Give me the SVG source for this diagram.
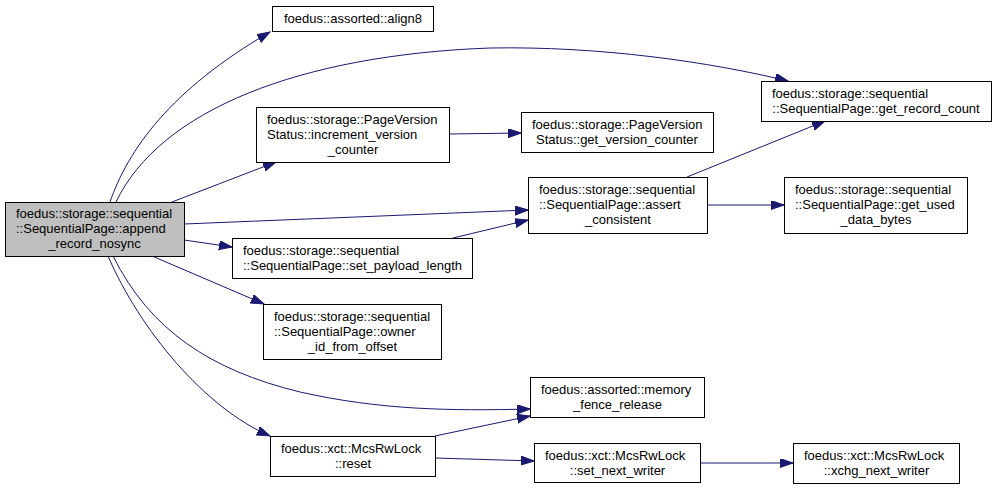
<svg xmlns="http://www.w3.org/2000/svg" width="996" height="489" viewBox="0 0 996 489">
<defs>
<marker id="arr" markerUnits="userSpaceOnUse" markerWidth="14" markerHeight="10" refX="13" refY="4.5" orient="auto">
<path d="M0,0 L13,4.5 L0,9 z" fill="#191970" stroke="#191970" stroke-width="1"/>
</marker>
<style>
.n rect{fill:#ffffff;stroke:#000000;stroke-width:1}
.n.main rect{fill:#bfbfbf}
text{font-family:"Liberation Sans",Arial,Helvetica,sans-serif;font-size:13px;fill:#000000}
.c{text-anchor:middle}
.e path{fill:none;stroke:#191970;stroke-width:1;marker-end:url(#arr)}
</style>
</defs>
<rect x="0" y="0" width="996" height="489" fill="#ffffff"/>
<g id="edges" class="e">
<path d="M110,202 C128,150 170,90 270,32"/>
<path d="M116,202 C160,110 300,55 490,48 C600,46 710,62 788,81"/>
<path d="M172,202 L276,162"/>
<path d="M184,224 L528,210"/>
<path d="M184,240 L232,247"/>
<path d="M152,256 L264,304"/>
<path d="M113,256 C150,330 210,370 300,392 C380,410 450,411 530,409"/>
<path d="M108,256 C140,330 205,408 270,436"/>
<path d="M449,134 L521,133"/>
<path d="M687,177 L825,121"/>
<path d="M707,205 L784,205"/>
<path d="M453,238 L528,220"/>
<path d="M435,436 L530,416"/>
<path d="M435,458 L534,461"/>
<path d="M700,463 L793,463"/>
</g>
<g id="n_main" class="n main">
<rect x="5.5" y="202.5" width="179" height="54"/>
<text x="16" y="218">foedus::storage::sequential</text>
<text x="16" y="233">::SequentialPage::append</text>
<text x="94.5" y="247.5" class="c">_record_nosync</text>
</g>
<g id="n_align8" class="n">
<rect x="272.5" y="6.5" width="161" height="25"/>
<text x="353" y="23" class="c">foedus::assorted::align8</text>
</g>
<g id="n_get_record_count" class="n">
<rect x="761.5" y="81.5" width="230" height="40"/>
<text x="772" y="98">foedus::storage::sequential</text>
<text x="876" y="113" class="c">::SequentialPage::get_record_count</text>
</g>
<g id="n_increment" class="n">
<rect x="256.5" y="107.5" width="193" height="55"/>
<text x="267" y="124">foedus::storage::PageVersion</text>
<text x="267" y="139">Status::increment_version</text>
<text x="353" y="153.5" class="c">_counter</text>
</g>
<g id="n_get_version_counter" class="n">
<rect x="521.5" y="112.5" width="192" height="40"/>
<text x="532" y="129">foedus::storage::PageVersion</text>
<text x="617" y="144" class="c">Status::get_version_counter</text>
</g>
<g id="n_assert" class="n">
<rect x="528.5" y="177.5" width="179" height="56"/>
<text x="539" y="194">foedus::storage::sequential</text>
<text x="539" y="209">::SequentialPage::assert</text>
<text x="618" y="223.5" class="c">_consistent</text>
</g>
<g id="n_get_used" class="n">
<rect x="784.5" y="177.5" width="183" height="56"/>
<text x="795" y="194">foedus::storage::sequential</text>
<text x="795" y="209">::SequentialPage::get_used</text>
<text x="876" y="223.5" class="c">_data_bytes</text>
</g>
<g id="n_set_payload" class="n">
<rect x="232.5" y="238.5" width="240" height="40"/>
<text x="243" y="255">foedus::storage::sequential</text>
<text x="352.5" y="270" class="c">::SequentialPage::set_payload_length</text>
</g>
<g id="n_owner" class="n">
<rect x="263.5" y="304.5" width="178" height="55"/>
<text x="274" y="321">foedus::storage::sequential</text>
<text x="274" y="336">::SequentialPage::owner</text>
<text x="352.5" y="350.5" class="c">_id_from_offset</text>
</g>
<g id="n_memory_fence" class="n">
<rect x="530.5" y="377.5" width="174" height="40"/>
<text x="541" y="394">foedus::assorted::memory</text>
<text x="617.5" y="409" class="c">_fence_release</text>
</g>
<g id="n_reset" class="n">
<rect x="270.5" y="436.5" width="165" height="40"/>
<text x="281" y="453">foedus::xct::McsRwLock</text>
<text x="353" y="468" class="c">::reset</text>
</g>
<g id="n_set_next_writer" class="n">
<rect x="534.5" y="443.5" width="166" height="39"/>
<text x="545" y="460">foedus::xct::McsRwLock</text>
<text x="617.5" y="475" class="c">::set_next_writer</text>
</g>
<g id="n_xchg" class="n">
<rect x="793.5" y="443.5" width="166" height="40"/>
<text x="804" y="460">foedus::xct::McsRwLock</text>
<text x="876.5" y="475" class="c">::xchg_next_writer</text>
</g>
</svg>
